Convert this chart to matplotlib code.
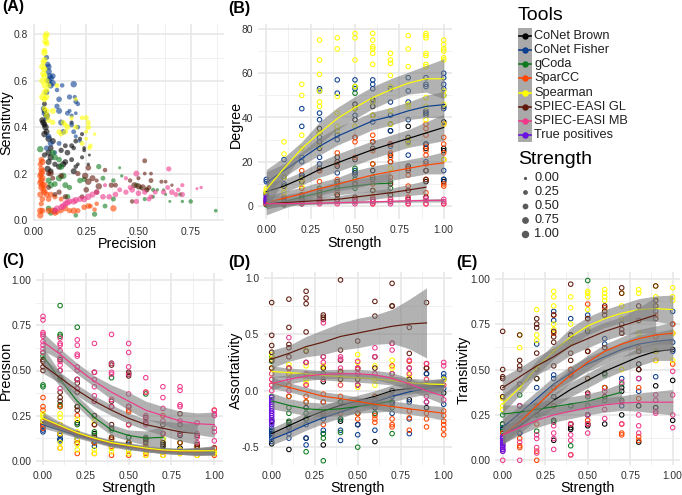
import matplotlib
matplotlib.use('Agg')
import matplotlib.pyplot as plt
import numpy as np
from matplotlib.lines import Line2D
from matplotlib.patches import Rectangle
from matplotlib.ticker import MultipleLocator

plt.rcParams['font.family'] = ['Liberation Sans', 'DejaVu Sans']

W, H = 682, 495

tools = ['CoNet Brown', 'CoNet Fisher', 'gCoda', 'SparCC', 'Spearman',
         'SPIEC-EASI GL', 'SPIEC-EASI MB', 'True positives']
colors = ['#000000', '#0d3f8f', '#0f7a1f', '#ff4500', '#ffff00',
          '#5f1a0c', '#ee3a8c', '#6a10e0']
strength_levels = [0.0, 0.25, 0.5, 0.75, 1.0]
steps = [0.0, 0.1, 0.2, 0.3, 0.4, 0.5, 0.6, 0.7, 0.8, 0.9, 1.0]

# panel A: (precision, sensitivity, strength)
a_black = [(.05,.50,.6),(.05,.47,.8),(.06,.45,1),(.04,.43,.9),(.045,.42,1),(.05,.41,.8),(.055,.40,1),(.06,.38,.9),
           (.05,.37,1),(.07,.35,1),(.09,.34,.9),(.08,.31,.8),(.07,.29,1),(.05,.28,.7),(.08,.27,1),(.07,.25,.9),
           (.065,.22,1),(.08,.21,.8),(.10,.24,.7),(.12,.23,.9),(.13,.30,.7),(.15,.32,.6),(.16,.29,.8),(.18,.32,.6),
           (.19,.31,.5),(.20,.34,.6),(.22,.35,.4),(.23,.37,.4),(.24,.30,.3),(.23,.27,.4),(.265,.28,.1),(.26,.24,.2),
           (.21,.24,.3),(.20,.23,.5),(.18,.26,.6),(.14,.24,.9),(.18,.42,.4),(.15,.25,.8),(.19,.21,.9),(.24,.31,.3)]
a_blue = [(.06,.70,.7),(.065,.67,.8),(.07,.66,.9),(.07,.64,1),(.075,.62,.9),(.08,.61,1),(.09,.62,.8),(.07,.60,1),
          (.09,.59,.9),(.08,.58,1),(.135,.58,.5),(.11,.56,.5),(.06,.55,.8),(.19,.585,1),(.17,.53,.7),(.195,.53,.4),
          (.12,.52,.8),(.20,.51,.6),(.21,.50,.5),(.11,.49,.7),(.12,.47,.9),(.045,.48,.7),(.17,.47,.4),(.05,.46,.8),
          (.16,.46,.6),(.18,.45,.4),(.20,.46,.3),(.06,.44,.7),(.13,.42,.9),(.18,.41,.6),(.21,.40,.5),(.14,.38,.8),
          (.07,.36,.8),(.19,.38,.6),(.08,.33,.9),(.12,.33,.6),(.06,.31,.7),(.10,.29,.5),(.20,.36,.4),(.22,.34,.3)]
a_green = [(.03,.305,1),(.09,.29,.9),(.10,.27,.9),(.12,.26,.8),(.13,.23,1),(.14,.19,1),(.12,.18,1),(.07,.17,.9),
           (.08,.15,1),(.10,.155,.8),(.15,.15,.9),(.17,.14,.7),(.22,.17,.8),(.24,.175,.7),(.31,.23,.7),(.33,.18,.6),
           (.38,.17,.5),(.42,.19,.2),(.41,.225,.1),(.49,.15,.6),(.51,.14,.4),(.54,.13,.4),(.57,.13,.4),(.59,.13,.2),
           (.62,.13,.1),(.63,.11,.1),(.53,.09,.4),(.57,.10,.3),(.65,.08,.1),(.71,.08,.2),(.70,.11,.4),(.75,.08,.5),
           (.87,.04,.3),(.34,.06,.6),(.29,.025,.7),(.20,.02,.5),(.38,.09,.6),(.16,.10,.8),(.10,.04,.9),(.07,.05,.8),
           (.08,.03,.7)]
a_orange = [(.035,.26,.8),(.04,.25,1),(.03,.24,.7),(.035,.22,.9),(.04,.21,1),(.035,.20,1),(.03,.19,.9),(.04,.18,1),
            (.035,.17,1),(.03,.16,.9),(.04,.15,1),(.05,.15,1),(.035,.14,1),(.045,.13,.9),(.05,.12,1),(.03,.11,.9),
            (.06,.11,.9),(.08,.11,.8),(.10,.10,.7),(.04,.09,.8),(.07,.09,.8),(.13,.09,.6),(.035,.07,.7),(.03,.04,1),
            (.04,.04,.9),(.03,.02,1),(.07,.04,.9),(.09,.04,1),(.11,.035,.8),(.13,.04,.7),(.15,.05,.9),(.17,.04,.7),
            (.19,.04,1),(.21,.04,.7),(.24,.055,.8),(.27,.06,.6),(.29,.045,.5),(.30,.07,.5),(.38,.05,1),(.26,.06,.8),
            (.10,.03,.8)]
a_yellow = [(.06,.80,1),(.055,.79,.9),(.055,.77,1),(.06,.76,.9),(.05,.73,.8),(.05,.72,1),(.05,.69,.9),(.045,.68,.8),
            (.04,.66,1),(.05,.65,.9),(.045,.63,1),(.05,.62,.9),(.04,.60,1),(.06,.60,.8),(.05,.58,.9),(.07,.58,.7),
            (.06,.56,.8),(.05,.55,.9),(.04,.53,1),(.05,.52,.9),(.06,.53,.8),(.05,.48,.7),(.06,.47,.9),(.06,.45,.8),
            (.07,.43,.8),(.09,.42,.7),(.09,.47,.9),(.11,.58,.6),(.14,.42,.7),(.15,.41,.6),(.16,.40,.8),(.20,.40,.7),
            (.20,.52,.4),(.23,.44,.5),(.25,.44,.7),(.26,.42,.6),(.26,.40,.8),(.25,.38,.4),(.29,.37,.2),(.27,.32,.5),
            (.265,.31,.4),(.25,.35,.3),(.23,.33,.6),(.12,.38,.7),(.13,.37,.6),(.15,.38,.7),(.18,.44,.5)]
a_brown = [(.53,.255,.6),(.26,.225,.8),(.34,.215,.5),(.08,.20,.9),(.21,.20,.7),(.53,.20,.3),(.56,.20,.3),(.245,.19,1),
           (.13,.19,.8),(.28,.18,.9),(.46,.17,.5),(.50,.18,.4),(.26,.165,1),(.61,.165,.4),(.63,.165,.3),(.56,.17,.6),
           (.30,.17,.4),(.37,.15,.7),(.31,.145,1),(.39,.15,.6),(.48,.15,.9),(.50,.145,.9),(.52,.14,1),(.54,.13,.7),
           (.55,.14,.6),(.30,.12,.7),(.12,.12,.7),(.10,.11,.6),(.15,.10,.7),(.47,.08,.5),(.25,.13,.8),(.07,.14,.6),
           (.09,.18,.6),(.07,.20,.7),(.23,.10,.6),(.66,.15,.2)]
a_pink = [(.10,.04,.9),(.11,.05,.9),(.13,.055,.9),(.14,.06,1),(.15,.07,.9),(.16,.075,1),(.17,.08,.9),(.19,.08,1),
          (.20,.085,1),(.22,.09,.9),(.24,.09,1),(.26,.10,1),(.28,.11,.9),(.30,.12,.8),(.33,.10,.8),(.36,.10,.8),
          (.39,.11,.8),(.41,.13,.6),(.44,.12,.7),(.47,.13,.8),(.49,.20,.9),(.50,.115,.8),(.46,.14,.6),(.53,.12,.7),
          (.56,.10,.6),(.58,.12,.6),(.62,.12,.7),(.64,.14,.6),(.645,.22,.7),(.66,.12,.8),(.68,.11,.6),(.69,.13,.5),
          (.71,.15,.4),(.71,.11,.7),(.78,.135,.1),(.80,.14,.2),(.49,.08,.7),(.55,.09,.6),(.44,.18,.4),(.34,.15,.4)]

# panel B: degree, one inner list per strength step
b_black = [[6,5],[13,9],[14,13,11],[35,33,29,26,17,16],[22,20,18,11],[46,44,39,21,15],[48,45,41,29,26,16],
           [37,34,28,23,20],[36,31,18,17],[42,28,26,16,11],[45,38,26,25,12,11]]
b_blue = [[12,11],[21,13,10],[44,36,22,20,14],[53,52,42,39,31,22,19],[57,51,34,32,30,15],[57,53,41,31,16,14],
          [57,55,53,47,38,29],[53,47,41,34,27],[58,52,47,39,29,23],[58,55,54,43,41,28,20],[60,58,55,53,50,44,16,12]]
b_green = [[1,.5],[2,1,.5],[4,3,1],[8,6,3],[10,8,5],[54,51,17,12,8],[19,13,7],[11,8,5],[],[],[]]
b_orange = [[1,2,3],[4,3,2,1],[16,12,8,5,2],[16,11,7,4,2],[24,19,12,6,2],[31,29,22,10,3],[32,29,25,19,10,4,1],
            [28,24,22,20,13,3],[30,17,14,9,7,4,1],[37,35,32,27,25,23,19,12,6,1],[37,31,28,24,21,10,9,1]]
b_yellow = [[6,7,8],[29,23.5,13,8,6],[55,50,32,26,12,9],[75,66,59.5,52,47,45,33,27],[76,71,49.5,42,36,34],
            [78,76,66,54,44,36],[78,75,72,71,69,64,47,41,7],[69,66,64.5,59,54,43,37,17],[77,71,63,46,45,30,28],
            [78,77,76,69,68,64,63,49,45,39],[75,73,71,70,67,66,52,50,46,37,21]]
b_brown = [[1,2],[3,2,1],[5,3,2],[7,5,3,2],[8,5,3],[10,4,2],[12,7,3,2],[10,5,2],[16,7,3],[16,12,4],[]]
b_pink = [[1,2],[1,1.5],[1,2],[1,2,2.5],[1,2],[1,2,2.5],[1,2,3],[1,2,3],[1,2,3.5],[1,2.5,3.5],[1,2,3]]
b_purple = [[2,2.5,3,3.5,4],[],[],[],[],[],[],[],[],[],[]]

b_fit = [[6.5,9,12.5,16.5,19.5,22.5,25.5,28,30.5,33,35.5],
         [10.5,16,21.5,27,31.5,35,38.5,40.5,43,45,45.8],
         [0,2,4,6,8,9,10,10.3],
         [1.5,3.5,5.5,7.8,9.8,12,14,15.5,17,18.5,19.5],
         [7.5,17,26,33,39.5,44.5,49,52.5,55.5,57.5,57.5],
         [1,1.5,2,2.5,3,4,5,6,7.2,8.5],
         [1,1.1,1.2,1.3,1.5,1.7,1.9,2.1,2.3,2.5,2.6]]
b_se = [[4.5,3,3,3.5,4,4,4,4,4,5,6],
        [5,3,3,4,4,4,4,4,4,5,6],
        [4,3,2.5,2.5,3,3,3.5,5],
        [3,3,3,3,3,4,4,4,4,4,5],
        [9,5,3,5,5,5,5,5,5,6,9],
        [2,1.5,1.5,1.5,1.5,2,2,2,2.5,3],
        [.6,.5,.5,.5,.5,.5,.5,.5,.6,.7,.8]]

# panel C: precision
c_black = [[.22,.20],[.15,.12],[.21,.14,.12],[.15,.10],[.18,.10],[.13,.08],[.12,.07],[.09,.06],[.14,.07],[.07,.05],[.07,.05]]
c_blue = [[.19,.17,.16],[.14,.12,.11],[.14,.10],[.11,.08],[.10,.07],[.09,.06],[.07,.05],[.06,.05],[.06,.05],[.05],[.05,.07]]
c_green = [[.60,.58,.42,.41],[.86,.70,.69,.45,.31,.30],[.74,.45,.30,.20,.15],[.25,.16,.14,.10],[.54,.46,.17,.12],
           [.48,.30,.13,.10],[.37,.13,.11,.08],[.12,.10,.08],[],[],[]]
c_orange = [[.35,.30,.28,.20,.18],[.30,.20,.15,.07],[.25,.15,.10,.04],[.20,.10,.04],[.12,.08,.03],[.28,.27,.10,.03],
            [.38,.03,.04,.08],[.05,.03,.15,.25],[.04,.06,.10],[.03,.05,.07],[.28,.07,.04,.03]]
c_yellow = [[.26,.25,.24,.22],[.26,.24,.20,.15,.10,.07],[.23,.16,.12,.09,.06],[.22,.12,.06,.04],[.10,.07,.05],
            [.20,.10,.06,.04],[.07,.05,.03],[.12,.05,.03],[.10,.06,.04],[.08,.05,.03],[.05,.04]]
c_brown = [[.56,.55,.52,.50],[.56,.50,.46,.38,.35,.33],[.45,.43,.40,.38,.30,.28],[.49,.33,.25,.20,.13],
           [.53,.33,.30,.20,.13],[.49,.47,.30,.20,.10],[.24,.21,.12,.10],[.20,.15,.10,.08],[.26,.20,.15,.10],[.14,.09,.08],[]]
c_pink = [[.80,.78,.71,.70,.69,.66,.64,.62,.60],[.68,.65,.64,.61,.57,.55,.53,.50,.40],[.67,.64,.59,.58,.52,.50,.45,.40],
          [.65,.49,.45,.41,.36,.33],[.70,.54,.49,.48,.34,.30],[.65,.60,.52,.48,.37,.30,.20],[.46,.38,.25,.23,.20],
          [.41,.35,.29,.22,.15],[.41,.39,.31,.30,.22,.15],[.21,.15,.13,.10],[.28,.26,.25,.18,.16,.11]]
c_purple = [[],[],[],[],[],[],[],[],[],[],[]]

c_fit = [[.215,.18,.145,.12,.095,.08,.065,.055,.05,.05,.055],
         [.20,.17,.14,.115,.09,.075,.065,.055,.05,.05,.05],
         [.58,.45,.33,.24,.17,.14,.125,.13],
         [.23,.185,.15,.12,.095,.08,.065,.055,.05,.05,.06],
         [.235,.195,.155,.125,.10,.085,.07,.06,.055,.055,.055],
         [.53,.46,.39,.33,.28,.235,.20,.18,.16,.15],
         [.66,.59,.51,.44,.38,.33,.28,.25,.22,.205,.20]]
c_se = [[.02,.015,.015,.015,.015,.015,.015,.015,.015,.02,.02],
        [.02,.015,.015,.015,.015,.015,.015,.015,.015,.02,.02],
        [.05,.04,.03,.03,.03,.03,.04,.06],
        [.025,.02,.015,.015,.015,.015,.015,.015,.015,.02,.025],
        [.035,.02,.015,.015,.015,.015,.015,.015,.015,.02,.025],
        [.045,.03,.03,.03,.03,.03,.03,.04,.05,.06],
        [.05,.03,.03,.03,.04,.05,.05,.05,.055,.06,.07]]

# panel D: assortativity
d_black = [[-.27,-.36,-.38,-.47],[-.28,-.32,-.52],[-.15,-.25,-.42],[.08,-.20,-.48],[-.10,-.27],[.05,-.20,-.30],[-.45,-.08,-.15],
           [0,-.10],[.03,-.08],[.15,-.15],[.10,-.02]]
d_blue = [[-.33,-.35,-.38,-.40,-.42,-.45],[-.33,-.38,-.42],[-.30,-.42,-.48],[-.10,-.25,-.35,-.38],[-.25,-.35,-.44],[-.10,-.30,-.39],
          [-.12,-.20,-.35],[-.05,-.12,-.20],[-.10,-.25,-.38],[.20,.15,.05,-.10],[.15,.12,.02,-.12]]
d_green = [[.30,.26,-.05],[-.05,-.15,-.20,-.27,-.30],[-.10,-.20,-.25,-.54],[.15,-.22,-.38,-.42,-.62],[-.10,-.25,-.37],
           [-.50,-.20,-.10],[-.05,-.20],[.15,-.15,-.38],[],[],[]]
d_orange = [[.20,.10,.05],[.15,.05,-.05],[.05,-.05,-.10],[-.03,-.10,-.20,-.30],[.17,-.05,-.20],[.19,-.10,-.20,-.25],
            [-.05,-.22,-.25,-.28],[.22,-.25,-.30,-.32],[.26,-.18,-.24,-.35],[.24,.20,-.20,-.25,-.32],[-.18,-.22,-.27,-.30,-.34,-.39]]
d_yellow = [[.32,.28,.20,.15],[.23,.20,.15],[.36,.22,.10,.07],[.22,.21,.10],[.15,.10,.05],[.32,.25,.10,.03],[.22,.10,.05],
            [.27,.20,.10],[.14,.12,.05],[.10,.05],[.10,.05]]
d_brown = [[.78,.49,.40,.34,.27,.20],[.81,.56,.41,.38,.30,.20],[.88,.82,.77,.52,.35,.25],[.67,.65,.63,.30,.20],
           [.98,.36,.27,.17,.10],[.44,.20,.10],[.79,.66,.30,.20],[.95,.75,.75,.42],[.56,.33,.20,.10],[.78,.20],[]]
d_pink = [[.15,.10,.05,0],[.47,.20,.10,0],[.25,.15,.05],[.60,.30,.25,.10],[.30,.28,.20,.05],[.26,.20,.15,.05],[.38,.30,.15],
          [.42,.36,.15],[.27,.20,.15,.05],[.24,.10,-.05,-.10],[.25,.22,.05,-.08]]
d_purple = [[-.06,-.08,-.10,-.12,-.14,-.16,-.18,-.20,-.22,-.24,-.26,-.28,-.30],[],[],[],[],[],[],[],[],[],[]]

d_fit = [[-.38,-.31,-.24,-.18,-.13,-.09,-.05,0,.02,.04,.05],
         [-.43,-.37,-.30,-.24,-.19,-.14,-.10,-.05,-.01,.02,.04],
         [-.09,-.13,-.16,-.17,-.16,-.14,-.12,-.09],
         [.07,.03,-.01,-.05,-.07,-.095,-.12,-.14,-.16,-.18,-.20],
         [.17,.16,.15,.135,.125,.115,.105,.09,.07,.06,.055],
         [.28,.33,.39,.43,.48,.51,.54,.57,.59,.60],
         [.065,.10,.13,.145,.15,.15,.14,.11,.06,0,-.05]]
d_se = [[.05,.05,.05,.05,.05,.05,.05,.05,.05,.05,.06],
        [.05,.05,.05,.05,.05,.05,.05,.05,.05,.05,.06],
        [.07,.06,.06,.06,.06,.06,.07,.09],
        [.05,.04,.04,.04,.04,.04,.04,.05,.05,.05,.06],
        [.05,.04,.04,.04,.04,.04,.04,.04,.04,.04,.05],
        [.08,.07,.09,.11,.12,.13,.13,.15,.22,.31],
        [.06,.04,.04,.04,.04,.04,.04,.05,.05,.06,.07]]

# panel E: transitivity
e_black = [[.20,.17],[.20,.15],[.30,.25],[.35,.22,.11],[.69,.20,.18,.17],[.71,.25,.20,.19],[.48,.20],[.40,.38,.25],
           [.53,.50,.30,.10],[.60,.41,.29],[.61,.44,.22]]
e_blue = [[.18,.13],[.30,.20,.15],[.64,.40,.30],[.82,.77,.47,.45,.30],[.78,.50,.30,.20],[.80,.60,.25,.20],[.67,.64,.40],
          [.70,.45,.30],[.60,.45,.38],[.82,.46],[.82,.75,.65,.60]]
e_green = [[.25,.20,.16],[.36,.30],[.45,.25,.16],[.40,.30,.21],[.30,.20,.08],[.99,.35,.30],[.47,.40,.33],[.42,.33],[],[],[]]
e_orange = [[.15,.10],[.12,.08,.07],[.30,.20,.05,0],[.80,.70,.40,.30],[.50,.47,.03,.20],[.86,.78,.60,.20,.22],[.84,.62,.40],
            [.70,.20,.15,.14],[.62,.40,.34,.13,.11],[.80,.68,.55],[.75,.70,.53]]
e_yellow = [[.30,.28,.34,.35],[.69,.62,.40],[.83,.69,.66,.50],[.93,.90,.85,.75,.72,.60],[.90,.84,.75,.65],
            [.93,.92,.90,.83,.73,.45],[.94,.92,.90,.88,.82],[.92,.85,.78,.50],[.94,.92,.70,.60],[.96,.90,.85,.60,.55],
            [.95,.90,.88,.70,.55]]
e_brown = [[.71,.50,.46,.45,.40,.35],[.69,.55,.52,.50,.42],[.78,.75,.73,.59,.50,.45],[.80,.71,.68,.65,.52],
           [.97,.69,.59,.55,.47],[.78,.60,.45,.37],[.85,.82,.80,.62,.35],[.95,.92,.75,.72,.70],[.85,.77,.60,.50],
           [.96,.88,.85,.78],[]]
e_pink = [[0,.12,.10,.08,.06,.05],[0,.30,.25,.20,.10],[.14,.12,.07,.04],[.19,.15,.12,.06],[.20,.14,.11,.03],[.36,.25,.20,.15],
          [.38,.28,.23],[.43,.32,.20],[.45,.25,.19,.15],[.36,.33,.27,.26],[.49,.36,.25,.18]]
e_purple = [[.05,.06,.07,.08,.09,.10,.11,.12,.13],[],[],[],[],[],[],[],[],[],[]]

e_fit = [[.14,.19,.26,.33,.39,.44,.49,.53,.57,.60,.61],
         [.18,.26,.34,.42,.48,.53,.57,.61,.64,.655,.665],
         [.255,.265,.28,.295,.31,.325,.35,.375],
         [.14,.21,.30,.39,.47,.54,.60,.64,.67,.69,.70],
         [.31,.40,.51,.60,.68,.74,.78,.81,.83,.835,.83],
         [.40,.46,.52,.57,.63,.67,.71,.74,.77,.80],
         [.14,.18,.22,.25,.27,.29,.305,.315,.32,.32,.32]]
e_se = [[.05,.04,.04,.04,.04,.04,.04,.04,.05,.05,.06],
        [.05,.04,.04,.04,.04,.04,.04,.04,.05,.05,.06],
        [.05,.04,.04,.04,.04,.04,.04,.05],
        [.05,.04,.04,.04,.04,.04,.04,.04,.05,.05,.06],
        [.05,.04,.04,.04,.05,.05,.05,.05,.06,.07,.08],
        [.06,.05,.05,.05,.05,.05,.05,.05,.07,.10],
        [.05,.04,.04,.04,.04,.04,.04,.04,.05,.06,.07]]

fig = plt.figure(figsize=(W / 100, H / 100), dpi=100)
fig.patch.set_facecolor('white')


def make_axes(box, xcal, ycal, xticks, yticks, yfmt, ylabel, xlabel, xlab_pos, ylab_pos):
    """box is left/top/right/bottom in pixels, xcal and ycal give two (pixel, value) pairs."""
    left, top, right, bottom = box
    ax = fig.add_axes([left / W, 1 - bottom / H, (right - left) / W, (bottom - top) / H])
    (px0, v0), (px1, v1) = xcal
    k = (v1 - v0) / (px1 - px0)
    ax.set_xlim(v0 + (left - px0) * k, v0 + (right - px0) * k)
    (py0, u0), (py1, u1) = ycal
    k = (u1 - u0) / (py1 - py0)
    ax.set_ylim(u0 + (bottom - py0) * k, u0 + (top - py0) * k)
    ax.set_xticks(xticks)
    ax.set_xticklabels(['%.2f' % t for t in xticks])
    ax.set_yticks(yticks)
    ax.set_yticklabels([yfmt % t for t in yticks])
    ax.xaxis.set_minor_locator(MultipleLocator((xticks[1] - xticks[0]) / 2))
    ax.yaxis.set_minor_locator(MultipleLocator((yticks[1] - yticks[0]) / 2))
    ax.grid(True, which='major', color='#e6e6e6', lw=1.1)
    ax.grid(True, which='minor', color='#eeeeee', lw=0.6)
    ax.set_axisbelow(True)
    for s in ax.spines.values():
        s.set_visible(False)
    ax.tick_params(which='both', length=0, labelsize=7.4, labelcolor='#303030')
    ax.tick_params(axis='x', pad=4.2)
    ax.tick_params(axis='y', pad=3.5)
    ax.set_xlabel(xlabel, fontsize=10.3, va='center')
    ax.set_ylabel(ylabel, fontsize=10.3, va='center')
    ax.xaxis.set_label_coords(xlab_pos[0] / W, 1 - xlab_pos[1] / H, transform=fig.transFigure)
    ax.yaxis.set_label_coords(ylab_pos[0] / W, 1 - ylab_pos[1] / H, transform=fig.transFigure)
    return ax


def draw_strength_panel(ax, groups, fits, ses):
    for group, col in zip(groups, colors):
        xs, ys = [], []
        for step, vals in zip(steps, group):
            xs += [step] * len(vals)
            ys += vals
        if xs:
            ax.scatter(xs, ys, s=10.5, facecolors='none', edgecolors=col, linewidths=0.75, zorder=3)
    # ribbon and line of one tool go together, so later ribbons veil earlier lines
    for fit, se, col in zip(fits, ses, colors):
        x = steps[:len(fit)]
        fit = np.array(fit)
        se = np.array(se)
        ax.fill_between(x, fit - se, fit + se, color='#7f7f7f', alpha=0.6, lw=0, zorder=4)
        ax.plot(x, fit, color=col, lw=0.85, zorder=4)


strength_ticks = [0.0, 0.25, 0.5, 0.75, 1.0]

ax_a = make_axes((33, 24, 224, 221), ((34, 0), (190.7, 0.75)), ((220, 0), (34.3, 0.8)),
                 [0.0, 0.25, 0.5, 0.75], [0.0, 0.2, 0.4, 0.6, 0.8], '%.1f',
                 'Sensitivity', 'Precision', (127, 244), (6, 123))
for pts, col in zip([a_black, a_blue, a_green, a_orange, a_yellow, a_brown, a_pink], colors):
    x, y, st = np.array(pts).T
    ax_a.scatter(x, y, s=(0.72 * (2.6 + 3.8 * st)) ** 2, color=col, alpha=0.6, lw=0, zorder=3)

ax_b = make_axes((258, 24, 452, 219), ((266.3, 0), (443.7, 1)), ((206, 0), (29, 80)),
                 strength_ticks, [0, 20, 40, 60, 80], '%d', 'Degree', 'Strength', (355, 243), (236, 124))
draw_strength_panel(ax_b, [b_black, b_blue, b_green, b_orange, b_yellow, b_brown, b_pink, b_purple], b_fit, b_se)

ax_c = make_axes((36, 273, 223, 465), ((43, 0), (214.3, 1)), ((460.7, 0), (280.3, 1)),
                 strength_ticks, strength_ticks, '%.2f', 'Precision', 'Strength', (129, 488), (6, 370))
draw_strength_panel(ax_c, [c_black, c_blue, c_green, c_orange, c_yellow, c_brown, c_pink, c_purple], c_fit, c_se)

ax_d = make_axes((264, 272, 452, 465), ((271.7, 0), (443.7, 1)), ((390.7, 0), (277.7, 1)),
                 strength_ticks, [-0.5, 0.0, 0.5, 1.0], '%.1f', 'Assortativity', 'Strength', (358, 488), (236, 370))
draw_strength_panel(ax_d, [d_black, d_blue, d_green, d_orange, d_yellow, d_brown, d_pink, d_purple], d_fit, d_se)

ax_e = make_axes((495, 272, 680, 465), ((502.7, 0), (672.7, 1)), ((460.3, 0), (278.7, 1)),
                 strength_ticks, strength_ticks, '%.2f', 'Transitivity', 'Strength', (588, 488), (464, 370))
draw_strength_panel(ax_e, [e_black, e_blue, e_green, e_orange, e_yellow, e_brown, e_pink, e_purple], e_fit, e_se)

# panel tags and legends sit on an overlay in pixel units
ov = fig.add_axes([0, 0, 1, 1], zorder=10)
ov.set_xlim(0, W)
ov.set_ylim(H, 0)
ov.axis('off')
ov.patch.set_alpha(0)

for tag, x, y in [('(A)', 2.5, 7), ('(B)', 228, 8), ('(C)', 2.5, 261), ('(D)', 228, 262), ('(E)', 456, 262)]:
    ov.text(x, y, tag, fontsize=11.5, fontweight='bold', ha='left', va='center')

ov.text(518, 16, 'Tools', fontsize=14, ha='left', va='center')
ov.add_patch(Rectangle((517.7, 28.3), 14.6, 114, facecolor='#a9a9a9', lw=0))
for i, (name, col) in enumerate(zip(tools, colors)):
    y = 35.7 + i * 14.25
    ov.add_line(Line2D([519, 531], [y, y], color=col, lw=1.2))
    ov.plot([525], [y], 'o', color=col, ms=4.6, mew=0)
    ov.text(534.3, y, name, fontsize=9.2, color='#202020', ha='left', va='center')

ov.text(518, 159, 'Strength', fontsize=14, ha='left', va='center')
for i, (lev, d) in enumerate(zip(strength_levels, [3.2, 4.8, 5.8, 6.8, 7.5])):
    y = 177.7 + i * 14.15
    ov.plot([525], [y], 'o', color='#5a5a5a', ms=d * 0.72, mew=0)
    ov.text(534.3, y, '%.2f' % lev, fontsize=9.2, color='#202020', ha='left', va='center')

fig.savefig('out.png', dpi=100)
